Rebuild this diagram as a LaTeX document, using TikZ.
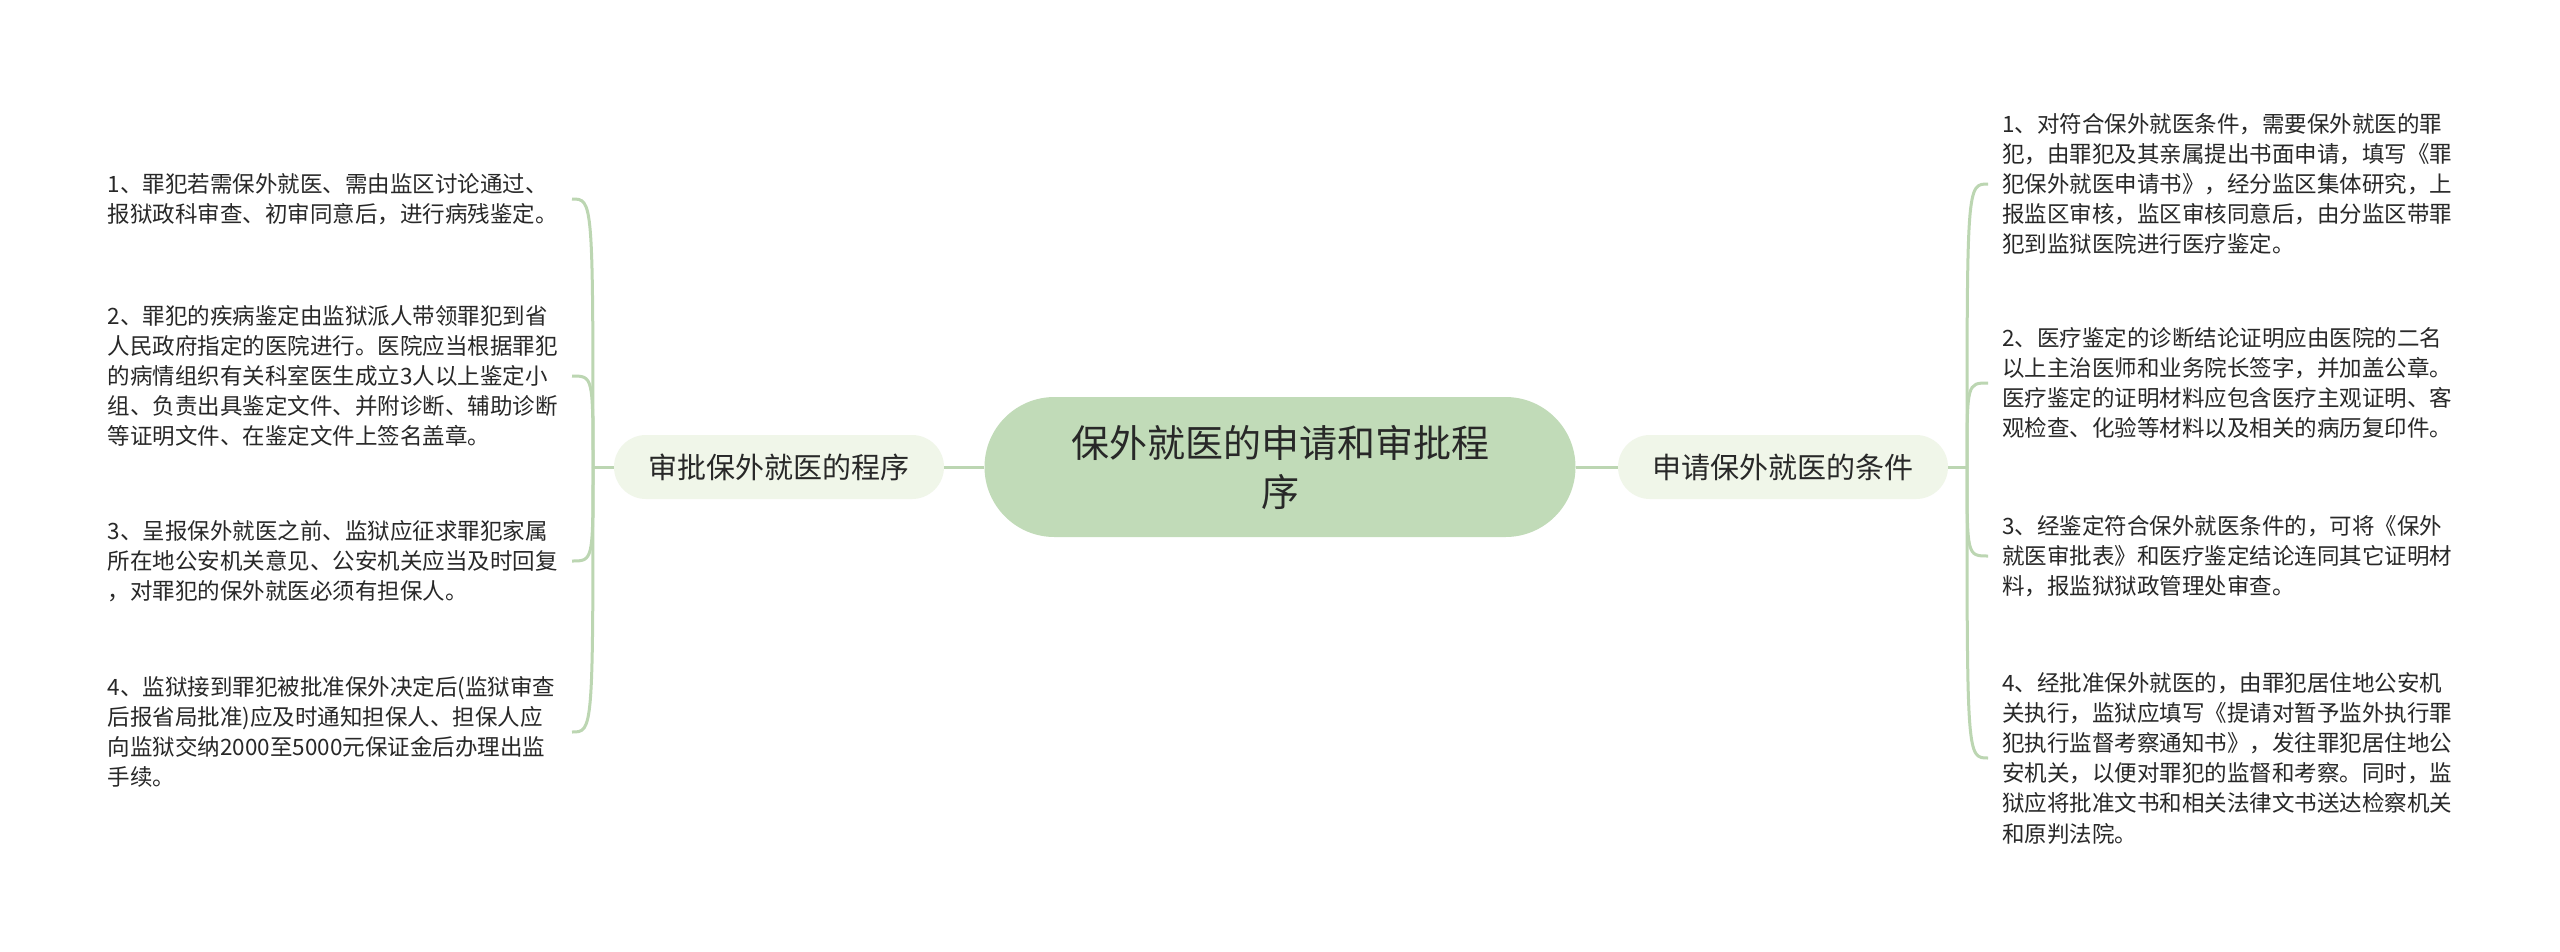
\documentclass[tikz,border=0pt]{standalone}
\usepackage{fontspec}
\usepackage{xcolor}
\usepackage{tikz}
\usetikzlibrary{calc, positioning}
\newfontfamily\cjkfont{Noto Sans CJK SC}
\definecolor{rootgreen}{RGB}{193,219,184}
\definecolor{branchgreen}{RGB}{240,246,233}
\definecolor{linkgreen}{RGB}{188,214,178}
\definecolor{inkgrey}{RGB}{40,40,40}
\tikzset{rootnode/.style={fill=rootgreen, rounded corners=70pt, minimum width=591pt, minimum height=140pt, inner sep=0pt, align=center, text=inkgrey, font=\cjkfont\fontsize{38}{49}\selectfont},
branchnode/.style={fill=branchgreen, rounded corners=32pt, minimum width=330pt, minimum height=64pt, inner sep=0pt, text=inkgrey, font=\cjkfont\fontsize{29}{35}\selectfont},
%leaf text blocks, the link ends on the side anchor
leftleaf/.style={anchor=east, text width=457pt, inner xsep=7pt, inner ysep=0pt, align=left, text=inkgrey, font=\cjkfont\fontsize{22.5}{30.2}\selectfont},
rightleaf/.style={anchor=west, text width=455pt, inner xsep=14pt, inner ysep=0pt, align=left, text=inkgrey, font=\cjkfont\fontsize{22.5}{30.2}\selectfont},
link/.style={draw=linkgreen, line width=3pt}}

\begin{document}
\begin{tikzpicture}[x=1pt,y=-1pt]
 \fill[white] (0,0) rectangle (2560,951);
 \useasboundingbox (0,0) rectangle (2560,951);

 %Drawing root and branches
 \node (root) [rootnode] at (1280,467) {保外就医的申请和审批程\\序};
 \node (approve) [branchnode] at (779,467) {审批保外就医的程序};
 \node (apply) [branchnode] at (1783,467) {申请保外就医的条件};
 \coordinate (lfork) at (593,467);
 \coordinate (rfork) at (1967,467);

 %Drawing left leaves
 \node (approve1) [leftleaf] at (572,199) {1、罪犯若需保外就医、需由监区讨论通过、\\报狱政科审查、初审同意后，进行病残鉴定。};
 \node (approve2) [leftleaf] at (572,376) {2、罪犯的疾病鉴定由监狱派人带领罪犯到省\\人民政府指定的医院进行。医院应当根据罪犯\\的病情组织有关科室医生成立3人以上鉴定小\\组、负责出具鉴定文件、并附诊断、辅助诊断\\等证明文件、在鉴定文件上签名盖章。};
 \node (approve3) [leftleaf] at (572,561) {3、呈报保外就医之前、监狱应征求罪犯家属\\所在地公安机关意见、公安机关应当及时回复\\，对罪犯的保外就医必须有担保人。};
 \node (approve4) [leftleaf] at (572,732) {4、监狱接到罪犯被批准保外决定后(监狱审查\\后报省局批准)应及时通知担保人、担保人应\\向监狱交纳2000至5000元保证金后办理出监\\手续。};

 %Drawing right leaves
 \node (apply1) [rightleaf] at (1988,184) {1、对符合保外就医条件，需要保外就医的罪\\犯，由罪犯及其亲属提出书面申请，填写《罪\\犯保外就医申请书》，经分监区集体研究，上\\报监区审核，监区审核同意后，由分监区带罪\\犯到监狱医院进行医疗鉴定。};
 \node (apply2) [rightleaf] at (1988,383) {2、医疗鉴定的诊断结论证明应由医院的二名\\以上主治医师和业务院长签字，并加盖公章。\\医疗鉴定的证明材料应包含医疗主观证明、客\\观检查、化验等材料以及相关的病历复印件。};
 \node (apply3) [rightleaf] at (1988,556) {3、经鉴定符合保外就医条件的，可将《保外\\就医审批表》和医疗鉴定结论连同其它证明材\\料，报监狱狱政管理处审查。};
 \node (apply4) [rightleaf] at (1988,758) {4、经批准保外就医的，由罪犯居住地公安机\\关执行，监狱应填写《提请对暂予监外执行罪\\犯执行监督考察通知书》，发往罪犯居住地公\\安机关，以便对罪犯的监督和考察。同时，监\\狱应将批准文书和相关法律文书送达检察机关\\和原判法院。};

 %Drawing links
 \draw[link] (root) -- (approve);
 \draw[link] (root) -- (apply);
 \draw[link] (approve.west) -- (lfork);
 \draw[link] (apply.east) -- (rfork);
 \foreach \leaf in {approve1,approve2,approve3,approve4}
  \draw[link] (lfork) .. controls (lfork |- \leaf.east) .. (\leaf.east);
 \foreach \leaf in {apply1,apply2,apply3,apply4}
  \draw[link] (rfork) .. controls (rfork |- \leaf.west) .. (\leaf.west);
\end{tikzpicture}
\end{document}
